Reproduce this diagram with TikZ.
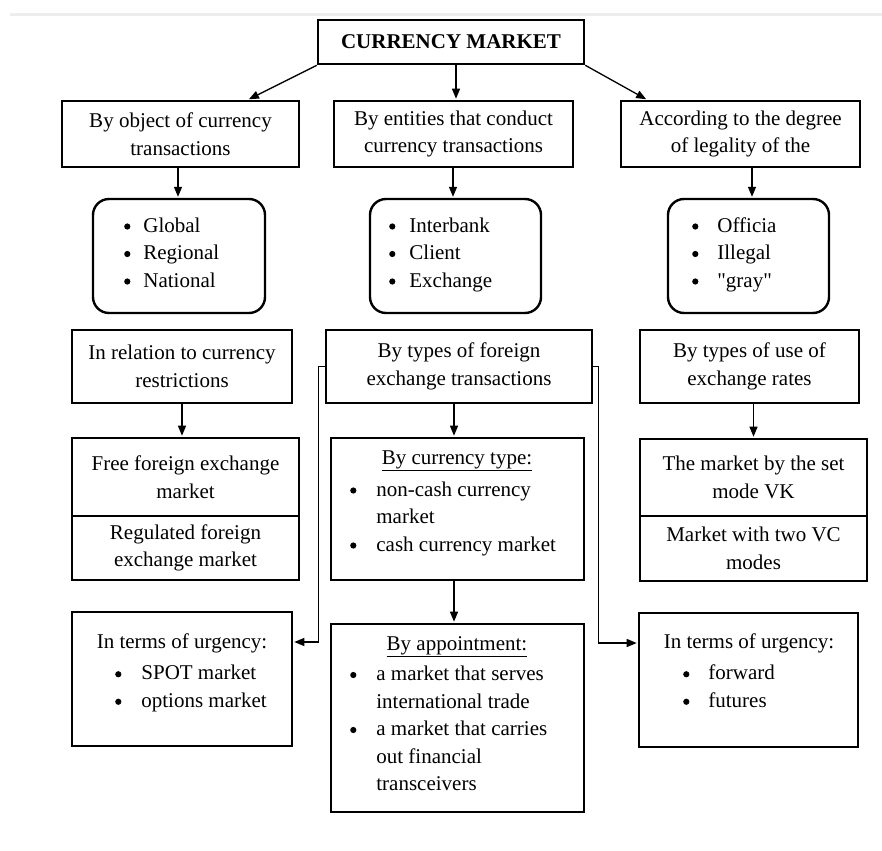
\documentclass[tikz,border=0pt]{standalone}
\usepackage{fontspec}
\setmainfont{Liberation Serif}[Ligatures=TeXOff]
\usetikzlibrary{arrows.meta}
\newcommand{\bdot}{\tikz[x=1cm,y=1cm,baseline={(0pt,-5.5pt)}]\fill[black] (0pt,0pt) circle (3.1pt);}
\begin{document}
\begin{tikzpicture}[x=1pt,y=-1pt,
  every node/.style={font=\fontsize{21}{27.5}\selectfont, inner sep=0pt},
  sz/.style 2 args={minimum width=#1pt,minimum height=#2pt},
  box/.style={draw,line width=2.6pt,align=center},
  rbox/.style={draw,line width=2.4pt,rounded corners=16pt},
  lst/.style={anchor=west},
  arr/.style={line width=1.3pt,-{Triangle[length=10pt,width=8pt]},shorten >=1pt},
  topline/.style={line width=3pt,black!7}]
\useasboundingbox (0,0) rectangle (882,850);
\draw[topline] (10,15) -- (882,15);
% top
\node[box,sz={266}{44},font=\fontsize{21}{27.5}\selectfont\bfseries] (top) at (451,42) {CURRENCY MARKET};
% row 1
\node[box,sz={237}{66}] (r1L) at (180.5,134) {By object of currency\\transactions};
\node[box,sz={239}{66}] (r1M) at (453.5,134) {By entities that conduct\\currency transactions};
\node[box,sz={239}{66}] (r1R) at (740.5,134) {According to the degree\\of legality of the};
% row 2
\node[rbox,sz={172}{114}] (r2L) at (179,256) {};
\node[rbox,sz={171}{114}] (r2M) at (455.5,256) {};
\node[rbox,sz={161}{114}] (r2R) at (748.5,256) {};
\node[lst] (r2Lt) at (124,254) {\begin{tabular}{@{}l@{\hspace{13pt}}l@{}}\bdot&Global\\\bdot&Regional\\\bdot&National\end{tabular}};
\node[lst] (r2Mt) at (389,254) {\begin{tabular}{@{}l@{\hspace{14pt}}l@{}}\bdot&Interbank\\\bdot&Client\\\bdot&Exchange\end{tabular}};
\node[lst] (r2Rt) at (692,254) {\begin{tabular}{@{}l@{\hspace{19pt}}l@{}}\bdot&Officia\\\bdot&Illegal\\\bdot&"gray"\end{tabular}};
% row 3
\node[box,sz={220}{73}] (r3L) at (182,366.5) {In relation to currency\\restrictions};
\node[box,sz={266}{73}] (r3M) at (459,366.5) {By types of foreign\\exchange transactions};
\node[box,sz={219}{73}] (r3R) at (749.5,366.5) {By types of use of\\exchange rates};
% row 4
\node[box,sz={227}{78}] (r4La) at (185.5,477) {Free foreign exchange\\market};
\node[box,sz={227}{64}] (r4Lb) at (185.5,548) {Regulated foreign\\exchange market};
\node[box,sz={253}{142}] (r4M) at (457.5,509) {};
\node (r4Mt) at (457,461) {\underline{By currency type:}};
\node[lst] (r4Ml) at (350,518) {\begin{tabular}{@{}l@{\hspace{20pt}}l@{}}\bdot&non-cash currency\\&market\\\bdot&cash currency market\end{tabular}};
\node[box,sz={227}{77}] (r4Ra) at (753.5,477.5) {The market by the set\\mode VK};
\node[box,sz={227}{65}] (r4Rb) at (753.5,548.5) {Market with two VC\\modes};
% row 5
\node[box,sz={220}{134}] (r5L) at (182,679) {};
\node (r5Lt) at (182,643) {In terms of urgency:};
\node[lst] (r5Ll) at (115,688) {\begin{tabular}{@{}l@{\hspace{20pt}}l@{}}\bdot&SPOT market\\\bdot&options market\end{tabular}};
\node[box,sz={253}{188}] (r5M) at (457.5,718) {};
\node (r5Mt) at (457,647) {\underline{By appointment:}};
\node[lst] (r5Ml) at (350,730) {\begin{tabular}{@{}l@{\hspace{20pt}}l@{}}\bdot&a market that serves\\&international trade\\\bdot&a market that carries\\&out financial\\&transceivers\end{tabular}};
\node[box,sz={219}{134}] (r5R) at (748.5,680) {};
\node (r5Rt) at (749,643) {In terms of urgency:};
\node[lst] (r5Rl) at (683,688) {\begin{tabular}{@{}l@{\hspace{19pt}}l@{}}\bdot&forward\\\bdot&futures\end{tabular}};
% connectors
\draw[arr] (top.south west) -- ([xshift=67.5pt]r1L.north);
\draw[arr] ([xshift=5pt]top.south) -- ([xshift=2.5pt]r1M.north);
\draw[arr] (top.south east) -- ([xshift=-93.5pt]r1R.north);
\draw[arr] ([xshift=-2.5pt]r1L.south) -- ([xshift=-1pt]r2L.north);
\draw[arr] ([xshift=-0.5pt]r1M.south) -- ([xshift=-2.5pt]r2M.north);
\draw[arr] ([xshift=11.5pt]r1R.south) -- ([xshift=3.5pt]r2R.north);
\draw[arr] (r3L.south) -- (r4La.north -| r3L.south);
\draw[arr] ([xshift=-5pt]r3M.south) -- ([xshift=-3.5pt]r4M.north);
\draw[arr] (r3R.south -| r4Ra.north) -- (r4Ra.north);
\draw[arr] ([xshift=-3.5pt]r4M.south) -- ([xshift=-3.5pt]r5M.north);
\draw[arr] (r3M.west) -- ++(-6,0) |- ([yshift=37pt]r5L.east);
\draw[arr] (r3M.east) -- ++(5,0) |- ([yshift=37pt]r5R.west);
\end{tikzpicture}
\end{document}
